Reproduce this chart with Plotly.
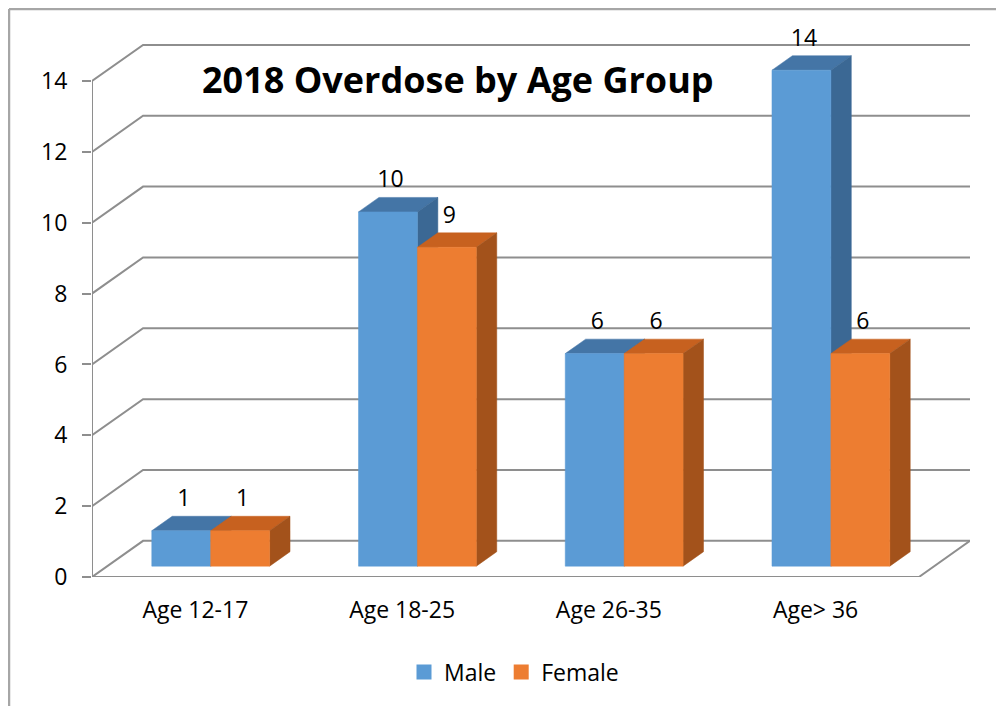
import plotly.graph_objects as go

categories = ["Age 12-17", "Age 18-25", "Age 26-35", "Age> 36"]
male = [1, 10, 6, 14]
female = [1, 9, 6, 6]
series_names = ["Male", "Female"]
y_ticks = [0, 2, 4, 6, 8, 10, 12, 14]

# style / geometry (page has an 8px body margin, so the figure is 8px smaller)
PAGE_OFF = 8
W, H = 1004 - PAGE_OFF, 706 - PAGE_OFF
DX = 0.247      # depth offset in category units (back wall)
DY = 1.02       # depth offset in value units (back wall)
BAR_W = 0.285
D_FRONT, D_BACK = 0.3, 0.7
n = len(categories)
XMIN, XMAX = -0.5, n - 0.5 + DX
WALL_TOP = max(y_ticks) + DY
EXTRA = 0.9                     # headroom above the wall so labels are not hidden
YMAX = WALL_TOP + EXTRA
# pixel frame of the wall area (page coordinates)
PX_L, PX_R, PX_WALL_TOP, PX_B = 92, 970, 45, 577
PPU = (PX_B - PX_WALL_TOP) / WALL_TOP
PX_T = PX_WALL_TOP - EXTRA * PPU
L, R = PX_L - PAGE_OFF, (PAGE_OFF + W) - PX_R
T, B = max(PX_T - PAGE_OFF, 0), (PAGE_OFF + H) - PX_B
GRID = "#8e8e8e"
FONT = "Open Sans"
colors = {
    "Male": ("#5B9BD5", "#4475a6", "#3b6894"),
    "Female": ("#ED7D31", "#c7611f", "#a3521b"),
}

fig = go.Figure()

def line(xs, ys, color=GRID, width=2):
    fig.add_trace(go.Scatter(x=xs, y=ys, mode="lines", line=dict(color=color, width=width),
                             hoverinfo="skip", showlegend=False, cliponaxis=False))

# wall gridlines (left wall diagonal + back wall horizontal)
for v in y_ticks:
    line([XMIN, XMIN + DX, XMAX], [v, v + DY, v + DY])
# floor front and right edges
line([XMIN, n - 0.5, n - 0.5 + DX], [0, 0, DY])
# front vertical axis line
line([XMIN, XMIN], [0, max(y_ticks)])
# category tick marks on the floor front edge
for k in range(n + 1):
    line([k - 0.5, k - 0.5], [0, -0.24])

def poly(xs, ys, color):
    fig.add_trace(go.Scatter(x=xs + [xs[0]], y=ys + [ys[0]], mode="lines", fill="toself",
                             fillcolor=color, line=dict(color=color, width=0.5),
                             hoverinfo="skip", showlegend=False))

fx, fy = D_FRONT * DX, D_FRONT * DY
bx, by = D_BACK * DX, D_BACK * DY
for i in range(n):
    for s, (name, vals) in enumerate(zip(series_names, [male, female])):
        v = vals[i]
        front, top, side = colors[name]
        x0 = i - BAR_W + s * BAR_W
        x1 = x0 + BAR_W
        poly([x0 + fx, x1 + fx, x1 + bx, x0 + bx], [v + fy, v + fy, v + by, v + by], top)
        poly([x1 + fx, x1 + fx, x1 + bx, x1 + bx], [fy, v + fy, v + by, by], side)
        poly([x0 + fx, x1 + fx, x1 + fx, x0 + fx], [fy, fy, v + fy, v + fy], front)

# data labels
for s, (name, vals) in enumerate(zip(series_names, [male, female])):
    xs = [i - BAR_W / 2 + s * BAR_W + 0.35 * DX for i in range(n)]
    ys = [v + by + 0.45 for v in vals]
    fig.add_trace(go.Scatter(x=xs, y=ys, mode="text", text=[str(v) for v in vals],
                             textposition="middle center",
                             textfont=dict(family=FONT, size=23, color="#000000"),
                             hoverinfo="skip", showlegend=False))

# legend entries
for name in series_names:
    fig.add_trace(go.Scatter(x=[None], y=[None], mode="markers", name=name,
                             marker=dict(symbol="square", size=15, color=colors[name][0])))

def px2paper(px, py):
    return (px - PX_L) / (PX_R - PX_L), (PX_B - py) / (PX_B - PX_T)

# outer frame (left and top edges)
fx0, fy0 = px2paper(9, 9)
far_x, far_y = px2paper(1200, 900)
fig.add_shape(type="line", xref="paper", yref="paper", x0=fx0, y0=fy0, x1=fx0, y1=far_y,
              line=dict(color="#a6a6a6", width=2.5))
fig.add_shape(type="line", xref="paper", yref="paper", x0=fx0, y0=fy0, x1=far_x, y1=fy0,
              line=dict(color="#a6a6a6", width=2.5))

tx, ty = px2paper(458, 80)
fig.add_annotation(text="<b>2018 Overdose by Age Group</b>", xref="paper", yref="paper",
                   x=tx, y=ty, showarrow=False, xanchor="center", yanchor="middle",
                   font=dict(family=FONT, size=36, color="#000000"))

lx, ly = px2paper(514, 672)
fig.update_layout(
    width=W, height=H,
    margin=dict(l=L, r=R, t=T, b=B, autoexpand=False),
    paper_bgcolor="white", plot_bgcolor="white",
    showlegend=True,
    legend=dict(orientation="h", x=lx, y=ly, xanchor="center", yanchor="middle",
                font=dict(family=FONT, size=23, color="#000000"), itemwidth=30),
    xaxis=dict(range=[XMIN, XMAX], tickvals=list(range(n)), ticktext=categories,
               showgrid=False, zeroline=False, showline=False, ticks="",
               ticklabelstandoff=17,
               tickfont=dict(family=FONT, size=23, color="#000000")),
    yaxis=dict(range=[0, YMAX], tickvals=y_ticks, showgrid=False, zeroline=False,
               showline=False, ticks="outside", ticklen=9, tickcolor=GRID, tickwidth=2,
               ticklabelstandoff=10,
               tickfont=dict(family=FONT, size=23, color="#000000")),
    font=dict(family=FONT),
)
fig.update_xaxes(fixedrange=True)
fig.update_yaxes(fixedrange=True)

fig.write_html("out.html")
